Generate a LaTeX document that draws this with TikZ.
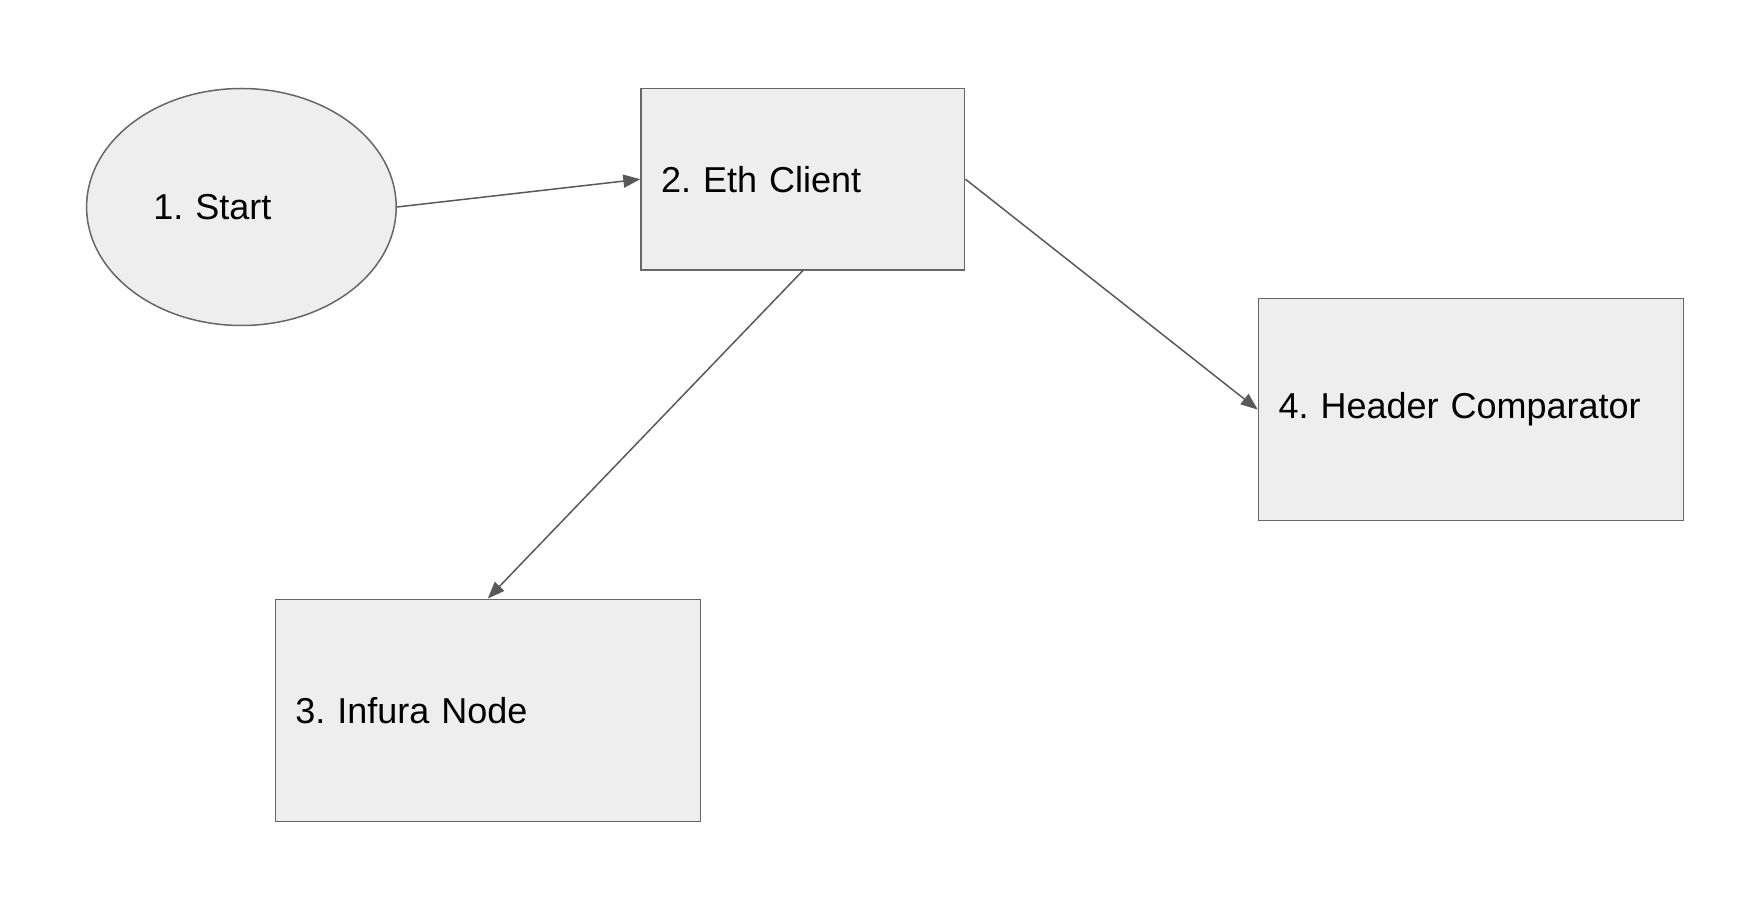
\documentclass[tikz,border=0pt]{standalone}
\usepackage{fontspec}
\setmainfont{Liberation Sans}
\usetikzlibrary{shapes.geometric,arrows.meta}
\frenchspacing

\definecolor{boxfill}{RGB}{238,238,238}
\definecolor{boxline}{RGB}{102,102,102}
\definecolor{arrowgray}{RGB}{89,89,89}

\tikzset{every picture/.style={line width=0.75pt}}

\begin{document}
\begin{tikzpicture}[x=0.5pt,y=0.5pt,yscale=-1,xscale=1,
	stepbox/.style={draw=boxline, fill=boxfill, rectangle, inner xsep=10pt, align=left, font=\fontsize{18}{21.6}\selectfont},
	startoval/.style={draw=boxline, fill=boxfill, ellipse, align=left, font=\fontsize{18}{21.6}\selectfont},
	flowarrow/.style={draw=arrowgray, -{Triangle[length=8.5pt,width=6.5pt]}}]
	%set diagram left start at 0, and has height of 898
	\useasboundingbox (0,0) rectangle (1740,898);

	% Ellipse
	\node[startoval, minimum width=154.8pt, minimum height=118.5pt, text width=88pt] (start) at (241.4,207) {1. Start};
	% Rectangle
	\node[stepbox, minimum width=161.8pt, minimum height=90.6pt, text width=141.8pt] (client) at (802.9,179.2) {2. Eth Client};
	% Rectangle
	\node[stepbox, minimum width=212.5pt, minimum height=111pt, text width=192.5pt] (infura) at (487.8,710.3) {3. Infura Node};
	% Rectangle
	\node[stepbox, minimum width=212.5pt, minimum height=111pt, text width=192.5pt] (header) at (1471,409.6) {4. Header Comparator};

	%Straight Lines
	\draw[flowarrow] (start.east) -- (client.west);
	%Straight Lines
	\draw[flowarrow] (client.south) -- (infura.north);
	%Straight Lines
	\draw[flowarrow] (client.east) -- (header.west);

\end{tikzpicture}
\end{document}
